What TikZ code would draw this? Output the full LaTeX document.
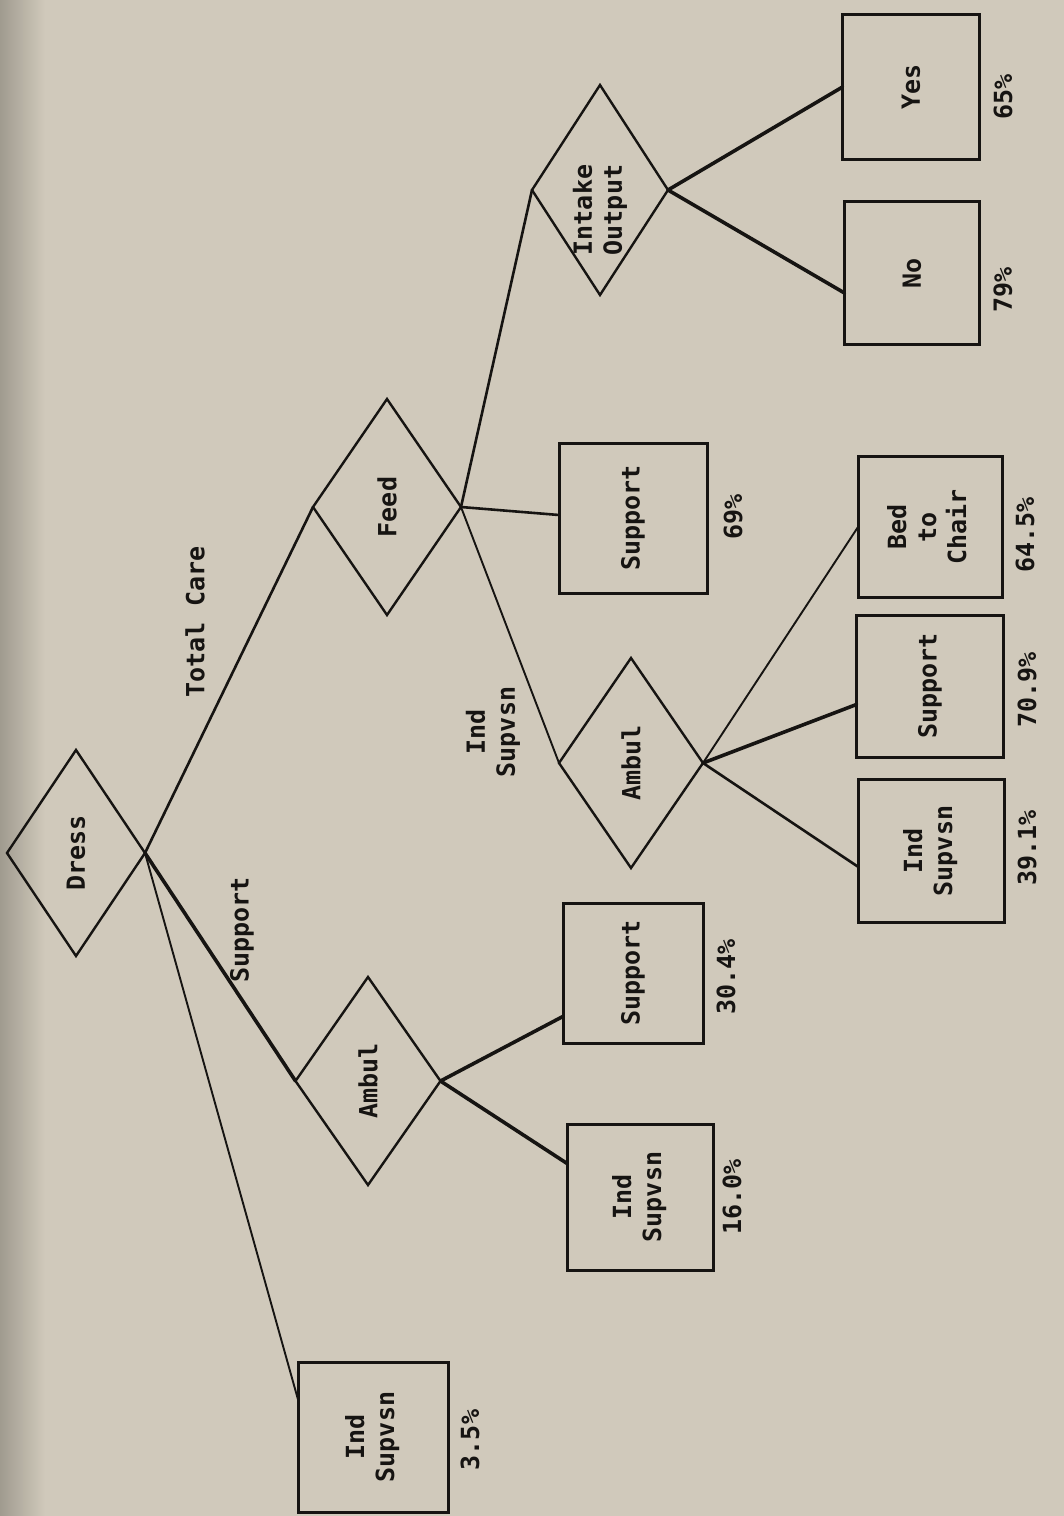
\documentclass[tikz,border=0pt]{standalone}
\usepackage{fontspec}
\usepackage{graphicx}
\setmainfont{DejaVu Sans Mono}[UprightFont=* Bold]
\usetikzlibrary{shapes.geometric,calc}
\definecolor{paper}{RGB}{208,201,187}
\definecolor{paperdark}{RGB}{160,155,143}
\definecolor{ink}{RGB}{22,20,18}
\begin{document}
\begin{tikzpicture}[x=1pt,y=-1pt,
  every node/.style={font=\fontsize{25}{30}\selectfont, text=ink, inner sep=0pt, outer sep=0pt},
  dia/.style={diamond, draw=ink, line width=2.4pt},
  box/.style={rectangle, draw=ink, line width=3pt},
  lbl/.style={rotate=90, align=center},
  conn/.style={draw=ink, line width=2.6pt, line cap=round},
  connthin/.style={draw=ink, line width=1.9pt, line cap=round},
  connthick/.style={draw=ink, line width=3.6pt, line cap=round}]
\useasboundingbox (0,0) rectangle (1064,1516);
\fill[paper] (0,0) rectangle (1064,1516);
\shade[left color=paperdark, right color=paper] (0,0) rectangle (45,1516);

% decision diamonds
\node[dia, minimum width=138pt, minimum height=206pt] (dress) at (76,853) {\rotatebox{90}{Dress}};
\node[dia, minimum width=148pt, minimum height=216pt] (feed) at (387,507) {\rotatebox{90}{Feed}};
\node[dia, minimum width=145pt, minimum height=208pt] (amb1) at (368,1081) {\rotatebox{90}{Ambul}};
\node[dia, minimum width=144pt, minimum height=210pt] (amb2) at (631,763) {\rotatebox{90}{Ambul}};
\node[dia, minimum width=136pt, minimum height=210pt] (intake) at (600,190) {};
\node[lbl] (intaketext) at (600,210) {Intake\\Output};

% outcome boxes
\node[box, minimum width=150pt, minimum height=150pt] (b35) at (373,1437) {\rotatebox{90}{\begin{tabular}{@{}c@{}}Ind\\Supvsn\end{tabular}}};
\node[box, minimum width=140pt, minimum height=140pt] (b304) at (633,973) {\rotatebox{90}{Support}};
\node[box, minimum width=146pt, minimum height=146pt] (b160) at (640,1197) {\rotatebox{90}{\begin{tabular}{@{}c@{}}Ind\\Supvsn\end{tabular}}};
\node[box, minimum width=148pt, minimum height=150pt] (b69) at (633,518) {\rotatebox{90}{Support}};
\node[box, minimum width=147pt, minimum height=142pt] (b709) at (930,686) {\rotatebox{90}{Support}};
\node[box, minimum width=146pt, minimum height=143pt] (b391) at (931,851) {\rotatebox{90}{\begin{tabular}{@{}c@{}}Ind\\Supvsn\end{tabular}}};
\node[box, minimum width=144pt, minimum height=141pt] (b645) at (930,527) {\rotatebox{90}{\begin{tabular}{@{}c@{}}Bed\\to\\Chair\end{tabular}}};
\node[box, minimum width=135pt, minimum height=143pt] (bno) at (912,273) {\rotatebox{90}{No}};
\node[box, minimum width=137pt, minimum height=145pt] (byes) at (911,87) {\rotatebox{90}{Yes}};

% percentages
\node[lbl] (p35) at (470,1440) {3.5\%};
\node[lbl] (p304) at (726,977) {30.4\%};
\node[lbl] (p160) at (732,1197) {16.0\%};
\node[lbl] (p69) at (733,517) {69\%};
\node[lbl] (p709) at (1027,690) {70.9\%};
\node[lbl] (p391) at (1027,848) {39.1\%};
\node[lbl] (p645) at (1025,535) {64.5\%};
\node[lbl] (p79) at (1003,290) {79\%};
\node[lbl] (p65) at (1003,97) {65\%};

% branch labels
\node[lbl] (ltotal) at (195,622) {Total Care};
\node[lbl] (lsupport) at (242,930) {Support};
\node[lbl] (lind) at (493,732) {Ind\\Supvsn};

% connectors
\draw[conn] (dress.east) -- (feed.west);
\draw[connthick] (dress.east) -- (amb1.west);
\draw[connthin] (dress.east) -- ($(b35.north west)!0.25!(b35.south west)$);
\draw[conn] (feed.east) -- (intake.west);
\draw[conn] (feed.east) -- ($(b69.north west)!0.48!(b69.south west)$);
\draw[connthin] (feed.east) -- (amb2.west);
\draw[connthick] (amb1.east) -- ($(b304.north west)!0.81!(b304.south west)$);
\draw[connthick] (amb1.east) -- ($(b160.north west)!0.27!(b160.south west)$);
\draw[connthin] (amb2.east) -- (b645.west);
\draw[connthick] (amb2.east) -- ($(b709.north west)!0.63!(b709.south west)$);
\draw[conn] (amb2.east) -- ($(b391.north west)!0.61!(b391.south west)$);
\draw[connthick] (intake.east) -- (byes.west);
\draw[connthick] (intake.east) -- ($(bno.north west)!0.64!(bno.south west)$);
\end{tikzpicture}
\end{document}
